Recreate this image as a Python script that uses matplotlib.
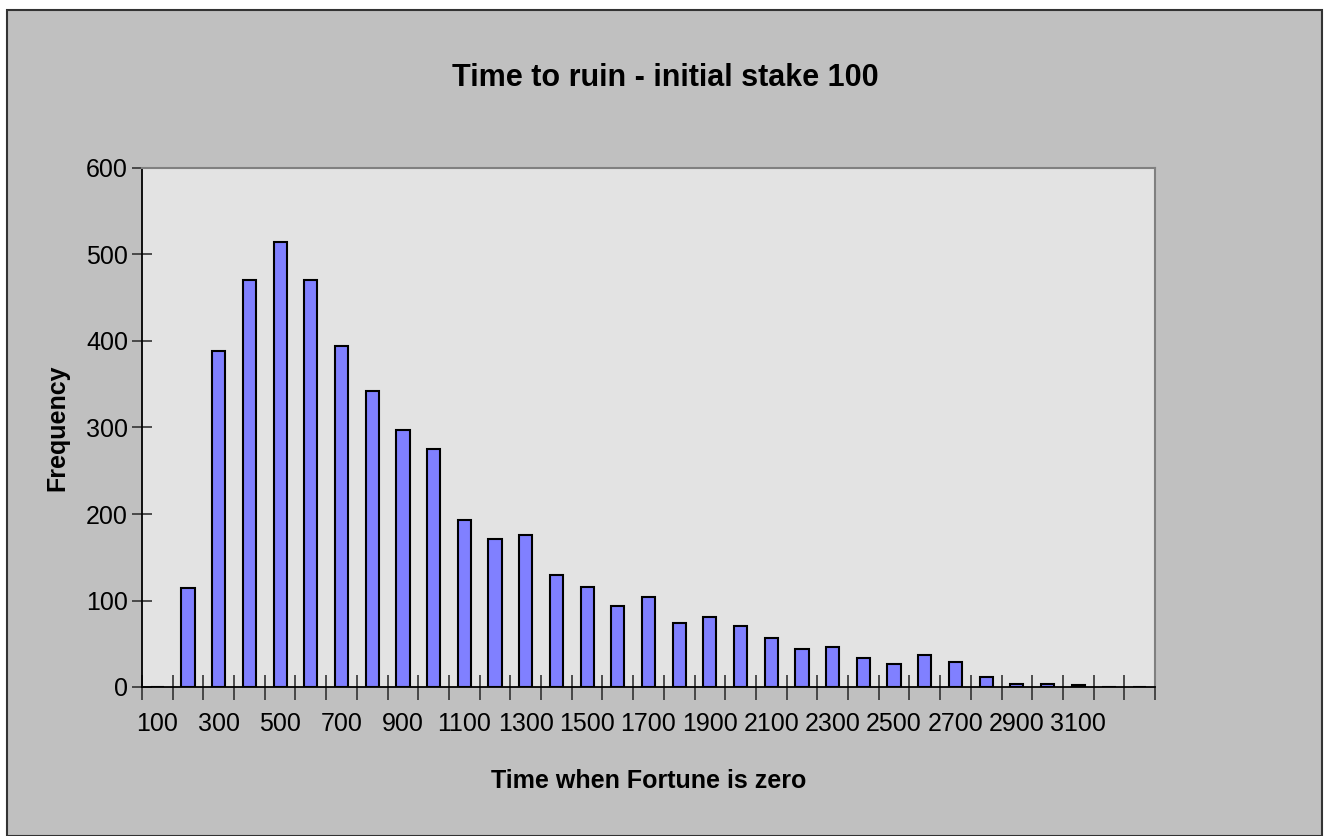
import matplotlib
matplotlib.use("Agg")
import matplotlib.pyplot as plt
import numpy as np
from matplotlib.patches import Rectangle

# histogram bins (Excel style: upper bin edges, last bin "More")
bins = [str(b) for b in range(100, 3300, 100)] + ["More"]
freq = [0, 114, 389, 471, 515, 471, 394, 342, 297, 275, 193, 171, 176, 129,
        116, 94, 104, 74, 81, 71, 57, 44, 46, 34, 27, 37, 29, 12, 4, 4, 2, 0, 0]
tick_labels = [b if i % 2 == 0 and b != "More" and int(b) <= 3100 else ""
               for i, b in enumerate(bins)]

W, H = 1327, 836
plt.rcParams["font.family"] = ["Liberation Sans", "DejaVu Sans"]

fig = plt.figure(figsize=(W / 100, H / 100), dpi=100)
fig.patch.set_facecolor("white")
fig.patches.append(Rectangle((7 / W, 0), (1322 - 7) / W, (H - 10) / H,
                             transform=fig.transFigure, facecolor="#c0c0c0",
                             edgecolor="#333333", lw=1.5, zorder=-10))

ax = fig.add_axes([142 / W, (H - 687) / H, (1155 - 142) / W, (687 - 168) / H])
ax.set_facecolor("#e3e3e3")

x = np.arange(len(bins))
ax.bar(x, freq, width=0.43, color="#8080ff", edgecolor="black", lw=1.5, zorder=3)

ax.set_xlim(-0.5, len(bins) - 0.5)
ax.set_ylim(0, 600)
ax.set_yticks(range(0, 601, 100))
ax.set_xticks(x)
ax.set_xticklabels(tick_labels)
ax.set_xticks(np.arange(-0.5, len(bins), 1.0), minor=True)
ax.tick_params(axis="x", which="major", length=0, pad=18, labelsize=18)
ax.tick_params(axis="x", which="minor", direction="inout", length=18,
               width=1.2, color="#333333")
ax.tick_params(axis="y", direction="inout", length=14, width=1.2,
               color="#333333", labelsize=18, pad=3)

for side in ("top", "right"):
    ax.spines[side].set_color("#808080")
    ax.spines[side].set_linewidth(1.5)
for side in ("left", "bottom"):
    ax.spines[side].set_color("black")
    ax.spines[side].set_linewidth(1.3)

ax.set_xlabel("Time when Fortune is zero", fontsize=18, fontweight="bold",
              labelpad=24)
ax.set_ylabel("Frequency", fontsize=18, fontweight="bold", labelpad=12)
fig.text(665 / W, 1 - 78 / H, "Time to ruin - initial stake 100", fontsize=22,
         fontweight="bold", ha="center", va="center")

fig.savefig("out.png", dpi=100)
